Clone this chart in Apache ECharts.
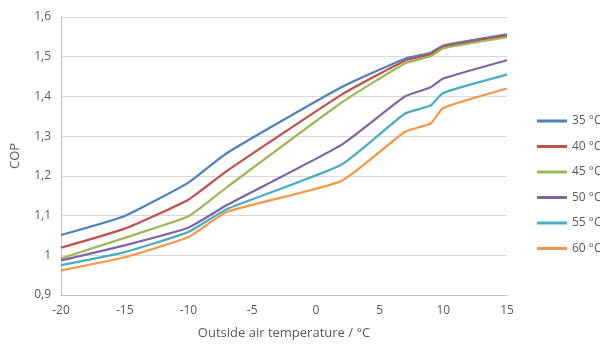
<!DOCTYPE html>
<html><head><meta charset="utf-8">
<script src="https://cdn.jsdelivr.net/npm/echarts@6/dist/echarts.min.js"></script>
<style>html,body{margin:0;padding:0;background:#fff}#c{width:600px;height:345px}</style>
</head><body><div id="c"></div>
<script>
const temps = [-20, -15, -10, -7, 2, 7, 9, 10, 15];
const names = ['35 °C', '40 °C', '45 °C', '50 °C', '55 °C', '60 °C'];
const cop35 = [1.051, 1.099, 1.183, 1.257, 1.423, 1.495, 1.510, 1.528, 1.556];
const cop40 = [1.019, 1.067, 1.140, 1.212, 1.404, 1.490, 1.506, 1.525, 1.553];
const cop45 = [0.992, 1.044, 1.098, 1.171, 1.384, 1.483, 1.501, 1.521, 1.549];
const cop50 = [0.987, 1.025, 1.070, 1.126, 1.278, 1.400, 1.423, 1.445, 1.491];
const cop55 = [0.975, 1.008, 1.059, 1.116, 1.228, 1.357, 1.377, 1.409, 1.455];
const cop60 = [0.962, 0.995, 1.046, 1.109, 1.187, 1.311, 1.332, 1.371, 1.420];
const xTicks = [-20, -15, -10, -5, 0, 5, 10, 15];
const yTicks = [0.9, 1.0, 1.1, 1.2, 1.3, 1.4, 1.5, 1.6];

const colors = ['#4F81BD', '#C0504D', '#9BBB59', '#8064A2', '#4BACC6', '#F79646'];
const all = [cop35, cop40, cop45, cop50, cop55, cop60];
const font = '"Open Sans", "Noto Sans", sans-serif';
const chart = echarts.init(document.getElementById('c'));
chart.setOption({
  animation: false,
  color: colors,
  grid: { left: 61, right: 93, top: 17, bottom: 46, containLabel: false },
  legend: {
    orient: 'vertical', left: 537, top: 113, padding: 0,
    icon: 'rect', itemWidth: 30, itemHeight: 3, itemGap: 9.5,
    textStyle: { color: '#595959', fontSize: 12, fontFamily: font, lineHeight: 16, padding: 0, overflow: 'none' },
    data: names
  },
  xAxis: {
    type: 'value', min: -20, max: 15, interval: 5,
    name: 'Outside air temperature / °C', nameLocation: 'middle', nameGap: 32,
    nameTextStyle: { color: '#595959', fontSize: 13, fontFamily: font },
    axisLine: { show: true, onZero: false, lineStyle: { color: '#bfbfbf', width: 1 } },
    axisTick: { show: false },
    splitLine: { show: false },
    axisLabel: { color: '#595959', fontSize: 12, fontFamily: font, margin: 10,
      formatter: v => xTicks.includes(v) ? String(v) : '' }
  },
  yAxis: {
    type: 'value', min: 0.9, max: 1.6, interval: 0.1,
    name: 'COP', nameLocation: 'middle', nameGap: 39, nameRotate: 90,
    nameTextStyle: { color: '#595959', fontSize: 13, fontFamily: font },
    axisLine: { show: true, onZero: false, lineStyle: { color: '#bfbfbf', width: 1 } },
    axisTick: { show: false },
    splitLine: { show: true, lineStyle: { color: '#d9d9d9', width: 1 } },
    axisLabel: { color: '#595959', fontSize: 12, fontFamily: font, margin: 10,
      formatter: v => String(+v.toFixed(1)).replace('.', ',') }
  },
  series: all.map((arr, i) => ({
    name: names[i], type: 'line', smooth: 0.15, showSymbol: false,
    lineStyle: { width: 2.25, color: colors[i] },
    data: temps.map((t, j) => [t, arr[j]])
  }))
});
</script></body></html>
